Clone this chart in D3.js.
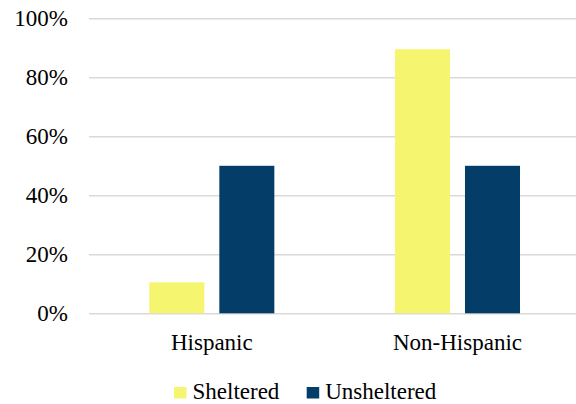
<!DOCTYPE html>
<html><head><meta charset="utf-8">
<script src="https://cdn.jsdelivr.net/npm/d3@7"></script>
<style>html,body{margin:0;padding:0;background:#fff;}svg{display:block;}
svg text{font-family:"Liberation Serif","Times New Roman",Tinos,"DejaVu Serif",serif;}</style>
</head><body>
<svg id="chart" width="576" height="404"></svg>
<script>
const categories = ["Hispanic", "Non-Hispanic"];
const seriesNames = ["Sheltered", "Unsheltered"];
const sheltered = [10.5, 89.5];
const unsheltered = [50, 50];
const yTicks = [0, 20, 40, 60, 80, 100];
const colors = ["#F5F56F", "#033D68"];

(function () {
const svg = d3.select("#chart");
const plotLeft = 89, plotRight = 580.3, plotTop = 18.3, plotBottom = 313.3;
const fs = 23;

const y = d3.scaleLinear().domain([0, 100]).range([plotBottom, plotTop]);
const x0 = d3.scaleBand().domain(categories).range([plotLeft, plotRight]).paddingInner(0.491).paddingOuter(0.2455);
const x1 = d3.scaleBand().domain(seriesNames).range([0, x0.bandwidth()]).paddingInner(0.2143).paddingOuter(0);

const yAxis = d3.axisLeft(y).tickValues(yTicks).tickSize(-(plotRight - plotLeft)).tickFormat(d => d + "%").tickPadding(21);
const gy = svg.append("g").attr("transform", `translate(${plotLeft},0)`).call(yAxis);
gy.attr("font-family", null);
gy.select(".domain").remove();
gy.selectAll(".tick line").attr("stroke", "#d9d9d9").attr("stroke-width", 1.5);
gy.selectAll(".tick text").attr("font-size", fs).attr("fill", "#000");

const data = categories.map((c, i) => ({cat: c, vals: [sheltered[i], unsheltered[i]]}));
const groups = svg.append("g").selectAll("g").data(data).join("g")
  .attr("transform", d => `translate(${x0(d.cat)},0)`);
groups.selectAll("rect").data(d => d.vals.map((v, j) => ({s: seriesNames[j], v, j})))
  .join("rect")
  .attr("x", d => x1(d.s))
  .attr("width", x1.bandwidth())
  .attr("y", d => y(d.v))
  .attr("height", d => y(0) - y(d.v))
  .attr("fill", d => colors[d.j]);

const xAxis = d3.axisBottom(x0).tickSize(0).tickPadding(20.4);
const gx = svg.append("g").attr("transform", `translate(0,${plotBottom})`).call(xAxis);
gx.attr("font-family", null);
gx.select(".domain").remove();
gx.selectAll(".tick text").attr("font-size", fs).attr("fill", "#000");

const legendX = [174, 306.7];
const lg = svg.append("g");
seriesNames.forEach((s, i) => {
  lg.append("rect").attr("x", legendX[i]).attr("y", 387).attr("width", 12.5).attr("height", 11.5).attr("fill", colors[i]);
  lg.append("text").attr("x", legendX[i] + 18.5).attr("y", 399).attr("font-size", fs).attr("fill", "#000").text(s);
});
})();
</script>
</body></html>
